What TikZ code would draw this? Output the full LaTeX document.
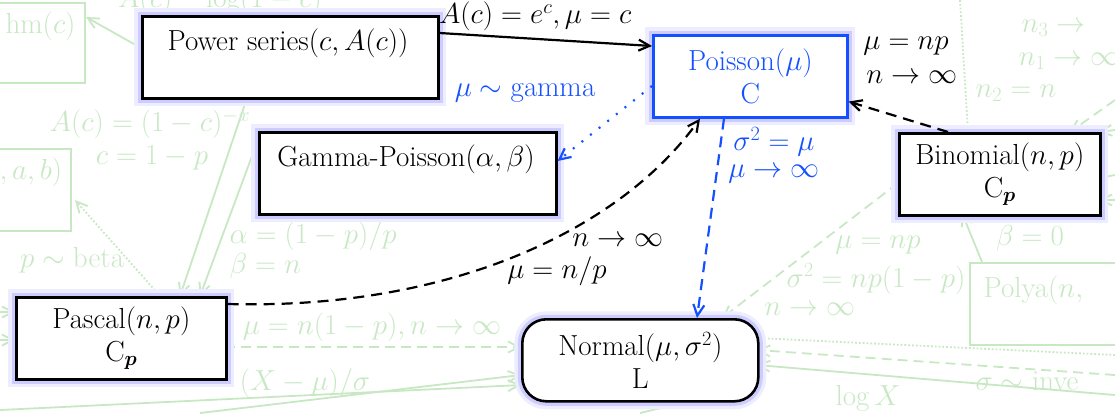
\RequirePackage{fix-cm}
\documentclass[tikz,border=0pt]{standalone}
\usepackage{amsmath}
\usetikzlibrary{arrows.meta}
\begin{document}
\begin{tikzpicture}[x=1pt,y=-1pt,
  >={Straight Barb[length=11pt,width=11pt]},
  font=\fontsize{29}{33}\selectfont,
  glow/.style={preaction={draw=blue!7,line width=16pt},preaction={draw=blue!20,line width=9pt}},
  dist/.style={glow,draw=black,line width=2.6pt,fill=white,minimum width=#1,minimum height=82pt,align=center,inner sep=0pt},
  bg/.style={draw=bgc,line width=1.8pt},
  bgt/.style={text=bgc},
  mainline/.style={line width=2.2pt},
  dsh/.style={dash pattern=on 11pt off 7pt},
  dts/.style={dash pattern=on 2pt off 9pt},
  lab/.style={inner sep=1pt}]
\definecolor{bgc}{RGB}{200,232,196}
\definecolor{pb}{RGB}{20,80,255}
\useasboundingbox (0,0) rectangle (1115,413);
% background faded elements
\node[bg,minimum width=120pt,minimum height=80pt,anchor=north east] (hm) at (86,2) {};
\node[bgt,anchor=west] (hmt) at (2,26) {hm$(c)$};
\node[bgt] (t1) at (220,0) {$A(c)\quad\log(1-c)$};
\node[bg,minimum width=120pt,minimum height=82pt,anchor=north east] (ab) at (72,148) {};
\node[bgt,anchor=west] (abt) at (-4,172) {$,a,b)$};
\node[bgt] (t2) at (150,124) {$A(c)=(1-c)^{-x}$};
\node[bgt] (t3) at (152,158) {$c=1-p$};
\node[bgt] (t4) at (72,260) {$p\sim\mathrm{beta}$};
\node[bgt,anchor=west] (t5) at (226,236) {$\alpha=(1-p)/p$};
\node[bgt,anchor=west] (t6) at (226,266) {$\beta=n$};
\node[bgt] (t7) at (372,327) {$\mu=n(1-p),n\to\infty$};
\node[bgt] (t8) at (305,383) {$(X-\mu)/\sigma$};
\node[bgt] (t9) at (878,245) {$\mu=np$};
\node[bgt] (t10) at (876,279) {$\sigma^2=np(1-p)$};
\node[bgt] (t11) at (810,309) {$n\to\infty$};
\node[bgt] (t12) at (1030,238) {$\beta=0$};
\node[bgt] (t13) at (868,398) {$\log X$};
\node[bgt,anchor=west] (t14) at (972,381) {$\sigma\sim$ inve};
\node[bgt,anchor=west] (t15) at (1018,28) {$n_3\to$};
\node[bgt,anchor=west] (t16) at (1015,61) {$n_1\to\infty$};
\node[bgt,anchor=west] (t17) at (972,93) {$n_2=n$};
\node[bg,minimum width=150pt,minimum height=82pt,anchor=north west] (po) at (969,262) {};
\node[bgt,anchor=west] (pot) at (980,290) {Polya$(n,$};
\coordinate (e1) at (0,312); \coordinate (e2) at (0,340); \coordinate (e3) at (0,410);
\coordinate (e4) at (1115,355); \coordinate (e5) at (1115,375); \coordinate (e6) at (1115,395);
\coordinate (e7) at (1115,100); \coordinate (e8) at (1115,130); \coordinate (e9) at (1115,175);
\coordinate (e10) at (1115,200); \coordinate (e11) at (960,0); \coordinate (e12) at (640,413);
\coordinate (e13) at (200,413);
% background connectors
\draw[bg,->] (247,98) -- (180,296);
\draw[bg,->] (258,140) -- (200,296);
\draw[bg,dotted,->] (160,296) -- (75,200);
\draw[bg,->] (141,48) -- (86,17);
\draw[bg,dash pattern=on 10pt off 6pt,->] (225,347) -- (521,347);
\draw[bg,->] (e1) -- (15,312);
\draw[bg,->] (e2) -- (15,340);
\draw[bg,->] (e13) -- (521,375);
\draw[bg,->] (e3) -- (521,385);
\draw[bg,dash pattern=on 10pt off 6pt,->] (898,183) -- (722,318);
\draw[bg,dotted] (e4) -- (757,338);
\draw[bg,dash pattern=on 10pt off 6pt,->] (e5) -- (757,350);
\draw[bg,->] (e6) -- (757,365);
\draw[bg,->] (e12) -- (757,385);
\draw[bg,->] (982,262) -- (962,213);
\draw[bg,dash pattern=on 10pt off 6pt,->] (e7) -- (1070,132);
\draw[bg,->] (e8) -- (1099,132);
\draw[bg] (e9) -- (1099,178);
\draw[bg,->] (e10) -- (1099,200);
\draw[bg,dotted] (e11) -- (968,132);
% main nodes
\node[dist=296pt,anchor=north west] (ps) at (141,15) {};
\node at (288,43) {Power series$(c,A(c))$};
\node[dist=194pt,draw=pb,text=pb,anchor=north west] (poi) at (652,34) {Poisson$(\mu)$\\C};
\node[dist=297pt,anchor=north west] (gp) at (258,131) {};
\node at (406,159) {Gamma-Poisson$(\alpha,\beta)$};
\node[dist=201pt,anchor=north west] (bin) at (898,132) {Binomial$(n,p)$\\C$_{\boldsymbol{p}}$};
\node[dist=210pt,anchor=north west] (pas) at (15,296) {Pascal$(n,p)$\\C$_{\boldsymbol{p}}$};
\node[dist=236pt,rounded corners=24pt,anchor=north west] (nor) at (521,318) {Normal$(\mu,\sigma^2)$\\L};
% main connectors
\draw[mainline,->] ([yshift=-18pt]ps.north east) -- ([yshift=-12pt]poi.north west)
  node[pos=0.45,above=6pt,lab] {$A(c)=e^c,\mu=c$};
\draw[pb,mainline,dts,->] ([yshift=-52pt]poi.north west) -- ([yshift=-30pt]gp.north east);
\node[text=pb] (gam) at (525,93) {$\mu\sim\mathrm{gamma}$};
\draw[mainline,dsh,->] ([xshift=50pt]bin.north west) -- ([yshift=17pt]poi.south east);
\node (l1) at (906,46) {$\mu=np$};
\node (l2) at (912,77) {$n\to\infty$};
\draw[mainline,dsh,->] ([yshift=-8pt]pas.north east) .. controls (450,310) and (620,230) .. ([xshift=48pt]poi.south west);
\node (l3) at (618,240) {$n\to\infty$};
\node (l4) at (557,271) {$\mu=n/p$};
\draw[pb,mainline,dsh,->] ([xshift=72pt]poi.south west) -- ([xshift=176pt]nor.north west);
\node[text=pb,inner sep=0pt] (l5) at (774,142) {$\sigma^2=\mu$};
\node[text=pb,inner sep=0pt] (l6) at (774,174) {$\mu\to\infty$};
\end{tikzpicture}
\end{document}
